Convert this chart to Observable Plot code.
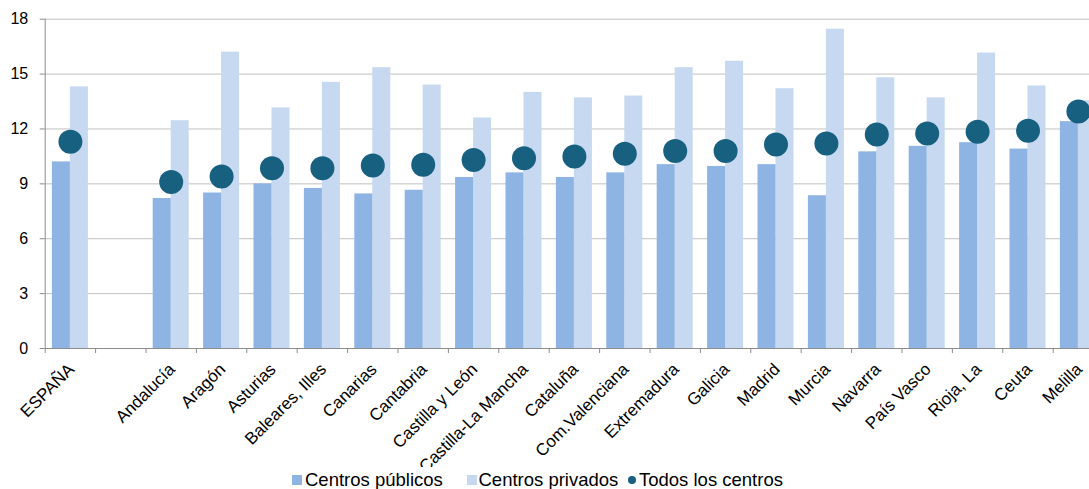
<!DOCTYPE html>
<html><head><meta charset="utf-8">
<script src="https://cdn.jsdelivr.net/npm/d3@7"></script>
<script src="https://cdn.jsdelivr.net/npm/@observablehq/plot@0.6"></script>
<style>
html,body{margin:0;padding:0;background:#fff;overflow:hidden;}
#chart svg{display:block;overflow:hidden;}
#chart svg text{fill:#000;}
#legend{position:relative;width:1089px;height:22px;font-family:"Liberation Sans",Arial,sans-serif;font-size:18.5px;color:#000;}
#legend .m{position:absolute;}
#legend .t{position:absolute;top:1.5px;line-height:22px;white-space:nowrap;}
</style></head><body>
<div id="chart"></div>
<div id="legend"></div>
<script>
const categories = ["ESPAÑA", " ", "Andalucía", "Aragón", "Asturias", "Baleares, Illes", "Canarias", "Cantabria", "Castilla y León", "Castilla-La Mancha", "Cataluña", "Com.Valenciana", "Extremadura", "Galicia", "Madrid", "Murcia", "Navarra", "País Vasco", "Rioja, La", "Ceuta", "Melilla"];
const publicos = [10.2, null, 8.2, 8.5, 9.0, 8.75, 8.45, 8.65, 9.35, 9.6, 9.35, 9.6, 10.05, 9.95, 10.05, 8.35, 10.75, 11.05, 11.25, 10.9, 12.4];
const privados = [14.3, null, 12.45, 16.2, 13.15, 14.55, 15.35, 14.4, 12.6, 14.0, 13.7, 13.8, 15.35, 15.7, 14.2, 17.45, 14.8, 13.7, 16.15, 14.35, 13.55];
const todos = [11.3, null, 9.1, 9.4, 9.85, 9.85, 10.0, 10.05, 10.3, 10.4, 10.5, 10.65, 10.8, 10.8, 11.15, 11.2, 11.7, 11.75, 11.85, 11.9, 12.95];
const yTicks = [0, 3, 6, 9, 12, 15, 18];
const legendLabels = ["Centros públicos", "Centros privados", "Todos los centros"];

const colPub = "#8EB4E3", colPriv = "#C6D9F1", colAll = "#17607F";
const axisGray = "#8c8c8c", gridGray = "#c0c0c0";

const data = categories.map((c, i) => ({cat: c, pub: publicos[i], priv: privados[i], all: todos[i]}))
  .filter(d => d.pub != null);

const X0 = 44.7, X1 = 1103.1;
const bw = (X1 - X0) / categories.length;

const chart = Plot.plot({
  width: 1089, height: 467,
  marginLeft: X0, marginRight: 0, marginTop: 18.7, marginBottom: 119,
  style: {fontFamily: "'Liberation Sans', Arial, sans-serif", fontSize: "16px", color: axisGray, background: "#fff", overflow: "hidden"},
  x: {type: "band", domain: categories, range: [X0, X1], padding: 0, round: false, axis: null},
  y: {domain: [0, 18], ticks: yTicks, tickSize: 5, tickPadding: 12, label: null},
  marks: [
    Plot.ruleY(yTicks.filter(t => t > 0), {stroke: gridGray}),
    Plot.barY(data, {x: "cat", y: "priv", fill: colPriv, insetLeft: 25.2, insetRight: 7.2}),
    Plot.barY(data, {x: "cat", y: "pub", fill: colPub, insetLeft: 7.2, insetRight: 25.2}),
    Plot.ruleY([0], {stroke: axisGray}),
    Plot.ruleX([categories[0]], {x: d => d, dx: -bw / 2, insetBottom: -5, stroke: axisGray}),
    Plot.ruleX(categories.slice(1), {x: d => d, dx: -bw / 2, insetTop: 329.3, insetBottom: -5, stroke: axisGray}),
    Plot.dot(data, {x: "cat", y: "all", r: 12, fill: colAll}),
    Plot.text(data, {x: "cat", text: "cat", frameAnchor: "bottom", rotate: -45, textAnchor: "end", lineAnchor: "middle", dx: 1, dy: 18, fontSize: 17, fill: "#000"})
  ]
});
document.getElementById("chart").appendChild(chart);

// legend
const legend = document.getElementById("legend");
const markerLeft = [292, 467, 628];
const textLeft = [305, 478.5, 639];
const markerColors = [colPub, colPriv, colAll];
legendLabels.forEach((lab, i) => {
  const m = document.createElement("span");
  m.className = "m";
  m.style.left = markerLeft[i] + "px";
  m.style.background = markerColors[i];
  if (i < 2) { m.style.top = "8.3px"; m.style.width = "10px"; m.style.height = "10px"; }
  else { m.style.top = "9px"; m.style.width = "8px"; m.style.height = "8px"; m.style.borderRadius = "50%"; }
  legend.appendChild(m);
  const t = document.createElement("span");
  t.className = "t";
  t.style.left = textLeft[i] + "px";
  t.textContent = lab;
  legend.appendChild(t);
});
</script>
</body></html>
